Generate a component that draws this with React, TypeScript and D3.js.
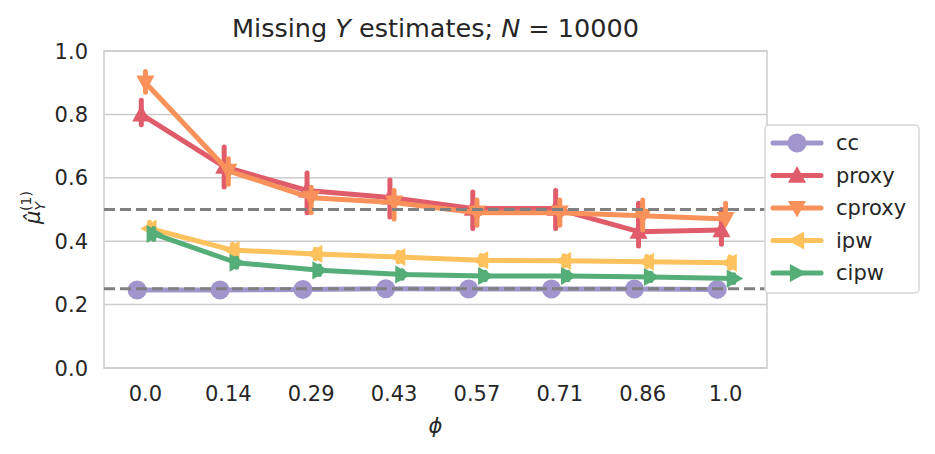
import * as d3 from "d3";

const phis = ["0.0", "0.14", "0.29", "0.43", "0.57", "0.71", "0.86", "1.0"];
const seriesNames = ["cc", "proxy", "cproxy", "ipw", "cipw"];
const colors = ["#a095cc", "#e05c6a", "#f8925a", "#fdc25e", "#55ad77"];
const markers = ["circle", "up", "down", "left", "right"];

const ccMean = [0.246, 0.246, 0.248, 0.25, 0.249, 0.249, 0.249, 0.248];
const ccLo = [0.238, 0.238, 0.24, 0.242, 0.241, 0.241, 0.241, 0.24];
const ccHi = [0.254, 0.254, 0.256, 0.258, 0.257, 0.257, 0.257, 0.256];

const proxyMean = [0.8, 0.635, 0.56, 0.538, 0.503, 0.503, 0.43, 0.435];
const proxyLo = [0.767, 0.571, 0.49, 0.476, 0.44, 0.44, 0.385, 0.39];
const proxyHi = [0.845, 0.697, 0.615, 0.593, 0.555, 0.56, 0.52, 0.5];

const cproxyMean = [0.9, 0.622, 0.537, 0.522, 0.49, 0.49, 0.48, 0.47];
const cproxyLo = [0.87, 0.58, 0.49, 0.47, 0.45, 0.45, 0.435, 0.46];
const cproxyHi = [0.935, 0.66, 0.57, 0.56, 0.53, 0.53, 0.53, 0.52];

const ipwMean = [0.44, 0.372, 0.36, 0.35, 0.34, 0.338, 0.335, 0.332];
const ipwLo = [0.425, 0.355, 0.345, 0.335, 0.325, 0.322, 0.32, 0.315];
const ipwHi = [0.46, 0.39, 0.375, 0.365, 0.355, 0.354, 0.352, 0.35];

const cipwMean = [0.423, 0.332, 0.308, 0.295, 0.29, 0.29, 0.287, 0.282];
const cipwLo = [0.405, 0.318, 0.295, 0.283, 0.278, 0.278, 0.276, 0.27];
const cipwHi = [0.44, 0.346, 0.322, 0.307, 0.302, 0.302, 0.299, 0.294];

const means = [ccMean, proxyMean, cproxyMean, ipwMean, cipwMean];
const lows = [ccLo, proxyLo, cproxyLo, ipwLo, cipwLo];
const highs = [ccHi, proxyHi, cproxyHi, ipwHi, cipwHi];

const yTicks = [0, 0.2, 0.4, 0.6, 0.8, 1.0];
const refLines = [0.5, 0.25];

const font = "DejaVu Sans, sans-serif";

function Marker({ kind, x, y, color }: { kind: string; x: number; y: number; color: string }) {
  const r = 9.5;
  if (kind === "circle") return <circle cx={x} cy={y} r={r} fill={color} />;
  const rot = kind === "up" ? 0 : kind === "down" ? 180 : kind === "left" ? -90 : 90;
  const path = `M0,${-r} L${r * 0.95},${r * 0.75} L${-r * 0.95},${r * 0.75} Z`;
  return <path d={path} fill={color} transform={`translate(${x},${y}) rotate(${rot})`} />;
}

export default function App() {
  const width = 935;
  const height = 454;
  const margin = { left: 104, right: 168, top: 51, bottom: 86 };
  const innerW = width - margin.left - margin.right;
  const innerH = height - margin.top - margin.bottom;

  const x = d3.scalePoint().domain(phis).range([0, innerW]).padding(0.5);
  const y = d3.scaleLinear().domain([0, 1]).range([innerH, 0]);
  const step = x.step();
  const dodge = d3.scaleLinear().domain([0, seriesNames.length - 1]).range([-step * 0.1, step * 0.1]);

  const line = d3
    .line<number>()
    .x((_, i) => (x(phis[i]) ?? 0))
    .y((d) => y(d));

  return (
    <svg width={width} height={height} style={{ position: "absolute", left: 0, top: 0, fontFamily: font }}>
      <rect width={width} height={height} fill="#fff" />
      <text x={margin.left + innerW / 2} y={37} textAnchor="middle" fontSize={25.5} fill="#262626">
        Missing <tspan fontStyle="italic">Y</tspan> estimates; <tspan fontStyle="italic">N</tspan> = 10000
      </text>
      <g transform={`translate(${margin.left},${margin.top})`}>
        {yTicks.map((t) => (
          <g key={t}>
            <line x1={0} x2={innerW} y1={y(t)} y2={y(t)} stroke="#cccccc" strokeWidth={1.5} />
            <text x={-16} y={y(t)} dy="0.36em" textAnchor="end" fontSize={21} fill="#262626">
              {t.toFixed(1)}
            </text>
          </g>
        ))}
        <rect x={0} y={0} width={innerW} height={innerH} fill="none" stroke="#cccccc" strokeWidth={1.5} />
        {phis.map((p) => (
          <text key={p} x={x(p)} y={innerH + 33} textAnchor="middle" fontSize={21} fill="#262626">
            {p}
          </text>
        ))}
        {means.map((m, si) => (
          <g key={seriesNames[si]} transform={`translate(${dodge(si)},0)`}>
            {m.map((_, i) => (
              <line
                key={i}
                x1={x(phis[i])}
                x2={x(phis[i])}
                y1={y(lows[si][i])}
                y2={y(highs[si][i])}
                stroke={colors[si]}
                strokeWidth={5}
                strokeLinecap="round"
              />
            ))}
            <path d={line(m) ?? ""} fill="none" stroke={colors[si]} strokeWidth={5} strokeLinejoin="round" strokeLinecap="round" />
            {m.map((v, i) => (
              <Marker key={i} kind={markers[si]} x={x(phis[i]) ?? 0} y={y(v)} color={colors[si]} />
            ))}
          </g>
        ))}
        {refLines.map((r) => (
          <line key={r} x1={0} x2={innerW} y1={y(r)} y2={y(r)} stroke="#808080" strokeWidth={3} strokeDasharray="11 5" />
        ))}
      </g>
      <text x={margin.left + innerW / 2} y={433} textAnchor="middle" fontSize={21} fontStyle="italic" fill="#262626">
        ϕ
      </text>
      <text transform={`translate(40,${margin.top + y(0.5) - 2}) rotate(-90)`} textAnchor="middle" fontSize={21} fill="#262626">
        <tspan fontStyle="italic">μ̂</tspan>
        <tspan fontStyle="italic" fontSize={14} dy={5}>Y</tspan>
        <tspan fontSize={14} dy={-14} dx={-9}>(1)</tspan>
      </text>
      <g transform="translate(765,125)">
        <rect x={0} y={0} width={154} height={168} rx={4} fill="#fff" stroke="#d6d6d6" strokeWidth={1.5} />
        {seriesNames.map((s, i) => (
          <g key={s} transform={`translate(0,${18 + i * 32.5})`}>
            <line x1={8} x2={56} y1={0} y2={0} stroke={colors[i]} strokeWidth={5} strokeLinecap="round" />
            <Marker kind={markers[i]} x={32} y={0} color={colors[i]} />
            <text x={71} y={0} dy="0.35em" fontSize={21} fill="#262626">
              {s}
            </text>
          </g>
        ))}
      </g>
    </svg>
  );
}
